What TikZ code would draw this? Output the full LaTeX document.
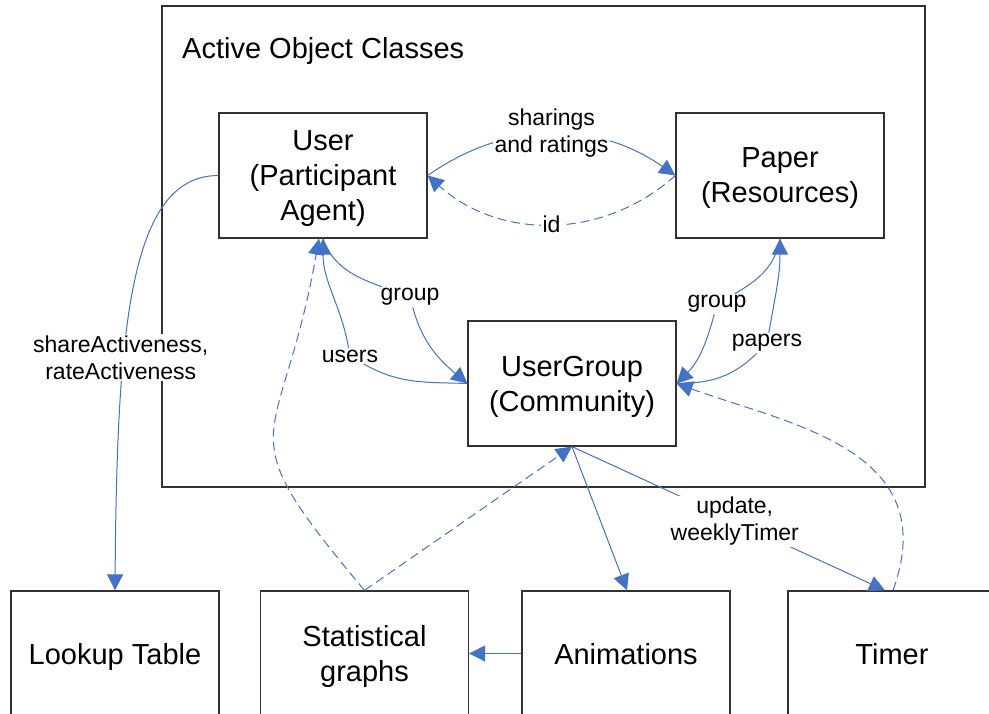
\documentclass[tikz,border=0pt]{standalone}
\usepackage{fontspec}
\setmainfont{Liberation Sans}
\usetikzlibrary{arrows.meta}

\definecolor{linkblue}{RGB}{68,114,196}
\definecolor{boxline}{RGB}{50,50,50}

\tikzset{
  classbox/.style={draw=boxline, line width=1.3pt, fill=white,
    minimum width=208pt, minimum height=125pt, inner sep=0pt,
    text depth=0pt, align=center, font=\fontsize{29}{35}\selectfont},
  lbl/.style={fill=white, inner sep=1.5pt, align=center,
    font=\fontsize{23}{27}\selectfont},
  link/.style={draw=linkblue, line width=1pt,
    -{Triangle[length=16pt,width=16pt,fill=linkblue]}},
  deplink/.style={link, dash pattern=on 9pt off 5pt},
}

\begin{document}
\begin{tikzpicture}[x=1pt,y=1pt]
  \useasboundingbox (0,0) rectangle (989,-714);
  \clip (0,0) rectangle (989,-714);

  % container for the active object classes
  \draw[boxline, line width=1.3pt] (162,-6) rectangle (925,-487);
  \node[anchor=base west, inner sep=0pt, font=\fontsize{29}{35}\selectfont]
    (title) at (182,-59) {Active Object Classes};

  % classes
  \node[classbox] (user)  at (323,-175.5) {User\\(Participant\\Agent)};
  \node[classbox] (paper) at (780,-175.5) {Paper\\(Resources)};
  \node[classbox] (ug)    at (572,-383.5) {UserGroup\\(Community)};

  % outputs along the bottom
  \node[classbox] (lookup) at (115,-653.5) {Lookup Table};
  \node[classbox] (stat)   at (364.5,-653.5) {Statistical\\graphs};
  \node[classbox] (anim)   at (626,-653.5) {Animations};
  \node[classbox] (timer)  at (892,-653.5) {Timer};

  % link labels that the curves pass through
  \node[lbl] (gU) at (410,-297) {group};
  \node[lbl] (uU) at (350,-356) {users};
  \node[lbl] (gP) at (717,-304) {group};
  \node[lbl] (pP) at (767,-343) {papers};

  % User <-> Paper
  \draw[link] (user.east) to[bend left=35]
    node[lbl, yshift=1pt] {sharings\\and ratings} (paper.west);
  \draw[deplink] (paper.west) to[bend left=42] node[lbl] {id} (user.east);

  % User <-> UserGroup
  \draw[link] (user.south) to[out=-70,in=160] (gU)
    to[out=-75,in=140] (ug.west);
  \draw[link] (ug.west) to[out=178,in=-30] (uU)
    to[out=100,in=-90] (user.south);

  % Paper <-> UserGroup
  \draw[link] (paper.south) to[out=-100,in=30] (gP)
    to[out=-105,in=45] (ug.east);
  \draw[link] (ug.east) to[out=0,in=-135] (pP)
    to[out=80,in=-90] (paper.south);

  % User -> Lookup Table
  \draw[link] (user.west) .. controls +(-89,0) and +(2,261) ..
    node[lbl, pos=0.65, xshift=-3pt] {shareActiveness,\\rateActiveness} (lookup.north);

  % UserGroup -> Animations, Timer
  \draw[link] (ug.south) -- ([xshift=1pt]anim.north);
  \draw[link] (ug.south) --
    node[lbl, pos=0.52] {update,\\weeklyTimer} ([xshift=-7pt]timer.north);

  % Animations -> Statistical graphs
  \draw[link] (anim.west) -- (stat.east);

  % dependencies
  \draw[deplink] (stat.north) to[out=130,in=-100,looseness=1.6]
    ([xshift=-4pt]user.south);
  \draw[deplink] (stat.north) -- (ug.south);
  \draw[deplink] ([xshift=1pt]timer.north) .. controls +(70:150) and +(-20:120) ..
    (ug.east);
\end{tikzpicture}
\end{document}
